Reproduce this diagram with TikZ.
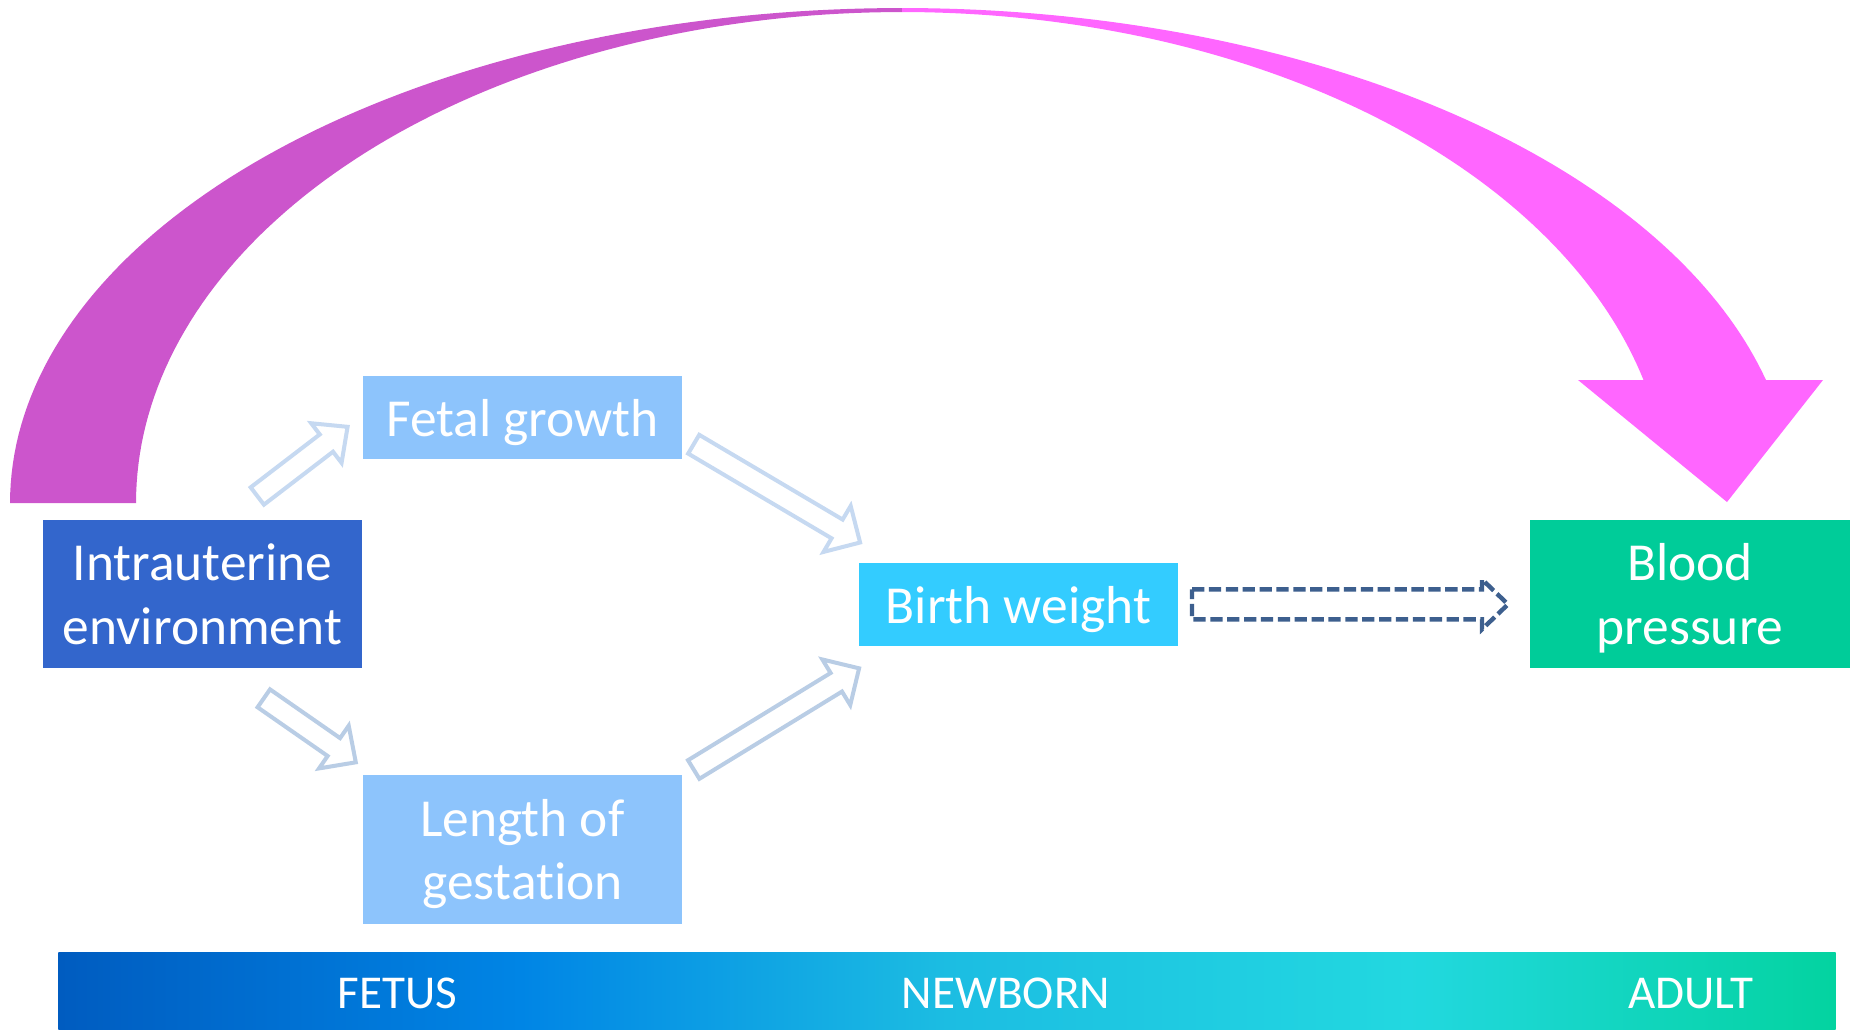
\documentclass[tikz,border=0pt]{standalone}
\usepackage{fontspec}
\setmainfont{Carlito}[Ligatures=CommonOff]
\usetikzlibrary{calc}
\definecolor{iuBlue}{HTML}{3366CC}
\definecolor{lightBox}{HTML}{8DC4FC}
\definecolor{bwBlue}{HTML}{33CCFF}
\definecolor{bpGreen}{HTML}{00CC99}
\definecolor{arcL}{HTML}{CC55CC}
\definecolor{arcR}{HTML}{FF66FF}
\definecolor{arrA}{HTML}{C6D9F1}
\definecolor{arrC}{HTML}{B9CDE5}
\definecolor{dashBlue}{HTML}{3D5F8E}
\definecolor{barA}{HTML}{005CC0}
\definecolor{barB}{HTML}{0085E5}
\definecolor{barC}{HTML}{1CBDE2}
\definecolor{barD}{HTML}{22D8E0}
\definecolor{barE}{HTML}{03D3A0}
\pgfdeclarehorizontalshading{barshade}{100bp}{color(0bp)=(barA); color(25bp)=(barA); color(38bp)=(barB); color(50bp)=(barC); color(63bp)=(barD); color(75bp)=(barE); color(100bp)=(barE)}
% hollow block arrow: [style]{tail}{tip}{shaft half width}{head half width}{head length}
\newcommand\holarrow[6][]{%
  \draw[#1] ($(#2)!#4!90:(#3)$)
    -- ($(#3)!#6!(#2)!#4!-90:(#2)$)
    -- ($(#3)!#6!(#2)!#5!-90:(#2)$)
    -- (#3)
    -- ($(#3)!#6!(#2)!#5!90:(#2)$)
    -- ($(#3)!#6!(#2)!#4!90:(#2)$)
    -- ($(#2)!#4!-90:(#3)$)
    -- cycle;}
\tikzset{
  boxnode/.style={inner sep=0pt, minimum width=3.19cm, minimum height=1.48cm,
    text=white, align=center, text depth=0pt, font=\fontsize{15.2pt}{18pt}\selectfont},
  bartext/.style={text=white, inner sep=0pt, anchor=base, font=\fontsize{13.4pt}{15pt}\selectfont},
  holA/.style={draw=arrA, line width=1.14pt, fill=white, line join=miter},
  holC/.style={draw=arrC, line width=1.14pt, fill=white, line join=miter},
  dashar/.style={draw=dashBlue, line width=1.25pt, dash pattern=on 3.5pt off 1.3pt, fill=white, line join=miter}
}
\begin{document}
\begin{tikzpicture}[x=0.01cm, y=-0.01cm]
\useasboundingbox (0,0) rectangle (1860,1029);
% curved arrow
\fill[arcL] plot[domain=180:270, samples=80] ({902+892*cos(\x)},{503+495*sin(\x)})
  -- plot[domain=270:180, samples=80] ({902+766*cos(\x)},{503+491*sin(\x)}) -- cycle;
\fill[arcR] plot[domain=270:345.61, samples=80] ({902+892*cos(\x)},{503+495*sin(\x)})
  -- (1823,380) -- (1727,502) -- (1578,380)
  -- plot[domain=345.49:270, samples=80] ({902+766*cos(\x)},{503+491*sin(\x)}) -- cycle;
% boxes
\node[boxnode, fill=iuBlue] (iu) at (202.5,594) {Intrauterine\\environment};
\node[boxnode, fill=lightBox, minimum height=0.83cm] (fg) at (522.5,417.5) {Fetal growth};
\node[boxnode, fill=lightBox] (lg) at (522.5,849.5) {Length of\\gestation};
\node[boxnode, fill=bwBlue, minimum height=0.83cm] (bw) at (1018.5,604.5) {Birth weight};
\node[boxnode, fill=bpGreen, minimum width=3.20cm] (bp) at (1690,594) {Blood\\pressure};
% timeline bar
\node[inner sep=0pt, minimum width=17.76cm, minimum height=0.77cm, shade, shading=barshade] (bar) at (947,990.5) {};
\node[bartext] (fetus) at (397.7,1008.3) {FETUS};
\node[bartext] (newborn) at (1006,1008.3) {NEWBORN};
\node[bartext] (adult) at (1691,1008.3) {ADULT};
% arrow end points
\coordinate (aAs) at (257.3,496);   \coordinate (aAe) at (347.6,426.8);
\coordinate (aBs) at (693.7,444.2); \coordinate (aBe) at (860.1,542.5);
\coordinate (aCs) at (263.8,698.3); \coordinate (aCe) at (355.8,762.3);
\coordinate (aDs) at (693.7,769.5); \coordinate (aDe) at (859.1,668.3);
\coordinate (aEs) at (1192,604.3);  \coordinate (aEe) at (1508,604.3);
% hollow arrows
\holarrow[holA]{aAs}{aAe}{3.1pt}{7.1pt}{7.6pt}
\holarrow[holA]{aBs}{aBe}{3.1pt}{7.6pt}{7.6pt}
\holarrow[holC]{aCs}{aCe}{3.1pt}{7.4pt}{7.6pt}
\holarrow[holC]{aDs}{aDe}{3.1pt}{7.6pt}{7.6pt}
\holarrow[dashar]{aEs}{aEe}{4.27pt}{7.1pt}{7.4pt}
\end{tikzpicture}
\end{document}
